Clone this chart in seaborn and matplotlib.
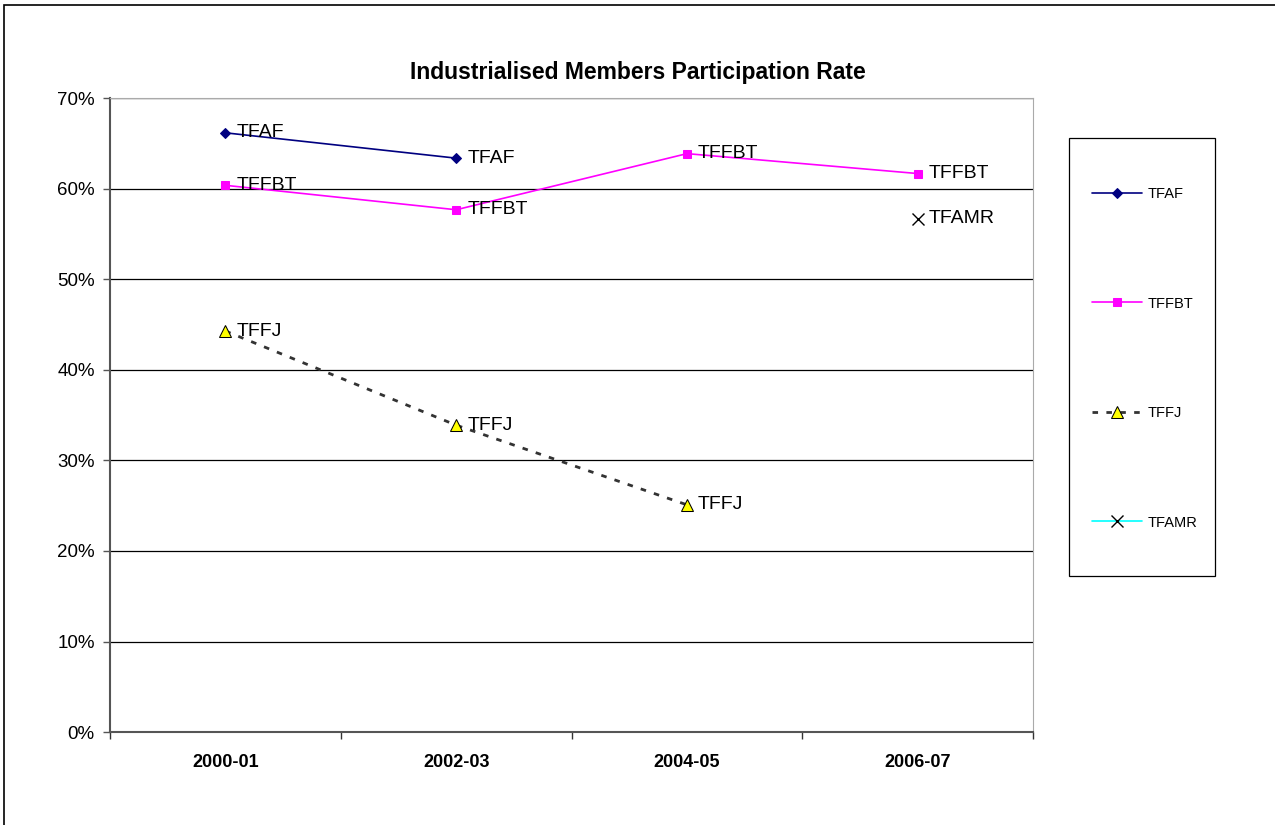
import numpy as np
import pandas as pd
import seaborn as sns
import matplotlib.pyplot as plt
from matplotlib.patches import Rectangle
from matplotlib.ticker import FixedLocator, PercentFormatter

# данные
periods = ['2000-01', '2002-03', '2004-05', '2006-07']
tfaf = [66.2, 63.4, np.nan, np.nan]
tffbt = [60.4, 57.7, 63.9, 61.7]
tffj = [44.3, 33.9, 25.1, np.nan]
tfamr = [np.nan, np.nan, np.nan, 56.7]

sns.set_theme(style='white')
plt.rcParams['font.family'] = ['Liberation Sans', 'DejaVu Sans']
plt.rcParams['text.color'] = 'black'
plt.rcParams['xtick.color'] = 'black'
plt.rcParams['ytick.color'] = 'black'

fig = plt.figure(figsize=(12.75, 8.25), dpi=100)
ax = fig.add_axes([0.0863, 0.1127, 0.724, 0.768])

x = np.arange(len(periods))
series = [
    ('TFAF', tfaf, dict(color='#000080', marker='D', markersize=5,
                        markerfacecolor='#000080', markeredgecolor='#000080',
                        linestyle='-', linewidth=1.2)),
    ('TFFBT', tffbt, dict(color='#FF00FF', marker='s', markersize=6,
                          markerfacecolor='#FF00FF', markeredgecolor='#FF00FF',
                          linestyle='-', linewidth=1.2)),
    ('TFFJ', tffj, dict(color='#333333', marker='^', markersize=9,
                        markerfacecolor='#FFFF00', markeredgecolor='black',
                        linestyle=(0, (2, 3)), linewidth=2)),
    ('TFAMR', tfamr, dict(color='#00FFFF', marker='x', markersize=9,
                          markerfacecolor='black', markeredgecolor='black',
                          markeredgewidth=1, linestyle='-', linewidth=1.2)),
]

for name, vals, style in series:
    df = pd.DataFrame({'x': x, 'y': vals}).dropna()
    sns.lineplot(data=df, x='x', y='y', ax=ax, label=name, **style)
    for xi, yi in zip(df['x'], df['y']):
        ax.annotate(name, (xi, yi), xytext=(8, 0), textcoords='offset points',
                    va='center', ha='left', fontsize=14, color='black')

ax.set_xlim(-0.5, 3.5)
ax.set_ylim(0, 70)
ax.set_xlabel('')
ax.set_ylabel('')

ax.xaxis.set_major_locator(FixedLocator(np.arange(-0.5, 4, 1)))
ax.xaxis.set_minor_locator(FixedLocator(x))
ax.set_xticklabels([], minor=False)
ax.set_xticklabels(periods, minor=True, fontweight='bold', fontsize=13)
ax.tick_params(axis='x', which='major', length=5, width=1, color='#333333', direction='out', bottom=True)
ax.tick_params(axis='x', which='minor', length=0, pad=16)

ax.set_yticks(np.arange(0, 71, 10))
ax.yaxis.set_major_formatter(PercentFormatter(decimals=0))
ax.tick_params(axis='y', length=5, width=1, color='#555555', direction='out', left=True, labelsize=13.5, pad=6)

ax.grid(axis='y', color='black', linewidth=0.9)
ax.set_axisbelow(True)
for side in ['top', 'right']:
    ax.spines[side].set_color('#aaaaaa')
    ax.spines[side].set_linewidth(0.8)
for side in ['left', 'bottom']:
    ax.spines[side].set_color('#555555')
    ax.spines[side].set_linewidth(1.5)

fig.text(0.5, 1 - 72 / 825, 'Industrialised Members Participation Rate',
         ha='center', va='center', fontweight='bold', fontsize=16.5)

# рамка легенды отдельно, сама легенда без рамки
fig.patches.append(Rectangle((1069 / 1275, 1 - 576 / 825), 146 / 1275, 438 / 825,
                             transform=fig.transFigure, fill=False,
                             edgecolor='black', linewidth=0.9))
leg = ax.legend(loc='upper left', bbox_to_anchor=(1092 / 1275, 1 - 187 / 825),
                bbox_transform=fig.transFigure, frameon=False, fontsize=10.5,
                labelspacing=6.55, handlelength=3.4, handletextpad=0.4,
                borderpad=0, borderaxespad=0)

fig.patches.append(Rectangle((4 / 1275, -0.05), 1.1, 1.05 - 5 / 825, transform=fig.transFigure,
                             fill=False, edgecolor='black', linewidth=1.2))

fig.savefig('out.png', dpi=100)
